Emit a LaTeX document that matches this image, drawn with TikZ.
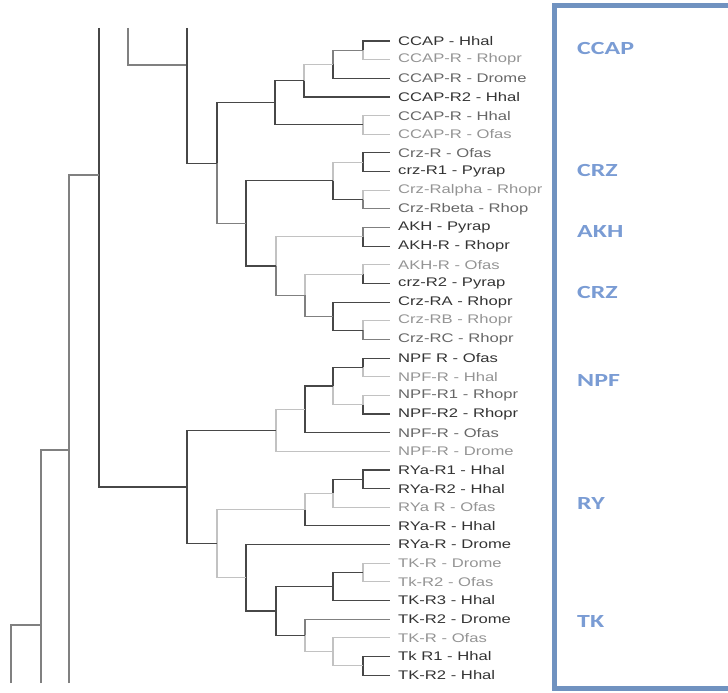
\documentclass[tikz,border=0pt]{standalone}
\usepackage{fontspec}
\usetikzlibrary{calc,positioning}
\newfontfamily\leaffont[FakeStretch=1.33]{Liberation Sans}
\newfontfamily\tagfont[FakeStretch=1.4]{Carlito}
\colorlet{dk}{black!72}
\colorlet{md}{black!50}
\colorlet{lt}{black!24}
\colorlet{lbd}{black!80}
\colorlet{lbm}{black!60}
\colorlet{lbl}{black!42}
\definecolor{boxblue}{RGB}{112,146,192}
\definecolor{tagblue}{RGB}{122,156,212}
\tikzset{%
   br/.style={line width=1.1pt},
   leaf/.style={inner sep=0pt, font=\leaffont\fontsize{12.5}{14}\selectfont},
   tag/.style={anchor=west, inner sep=0pt, text=tagblue, font=\tagfont\bfseries\fontsize{18.5}{20}\selectfont},
   frame/.style={draw=boxblue, line width=5pt},
}
% clade point: name, x, upper child, lower child
\newcommand{\clade}[4]{\path let \p1=($(#3)!.5!(#4)$) in coordinate (#1) at (#2,\y1);}

\begin{document}
\begin{tikzpicture}[x=1pt, y=-1pt]
  \useasboundingbox (0,0) rectangle (728,693);
  % leaves
  \foreach \lab/\c [count=\i] in {CCAP - Hhal/lbd, CCAP-R - Rhopr/lbl, CCAP-R - Drome/lbm,
      CCAP-R2 - Hhal/lbd, CCAP-R - Hhal/lbm, CCAP-R - Ofas/lbl, Crz-R - Ofas/lbm,
      crz-R1 - Pyrap/lbd, Crz-Ralpha - Rhopr/lbl, Crz-Rbeta - Rhop/lbm, AKH - Pyrap/lbd,
      AKH-R - Rhopr/lbd, AKH-R - Ofas/lbl, crz-R2 - Pyrap/lbd, Crz-RA - Rhopr/lbd,
      Crz-RB - Rhopr/lbl, Crz-RC - Rhopr/lbm, NPF R - Ofas/lbd, NPF-R - Hhal/lbl,
      NPF-R1 - Rhopr/lbm, NPF-R2 - Rhopr/lbd, NPF-R - Ofas/lbm, NPF-R - Drome/lbl,
      RYa-R1 - Hhal/lbd, RYa-R2 - Hhal/lbd, RYa R - Ofas/lbl, RYa-R - Hhal/lbd,
      RYa-R - Drome/lbd, TK-R - Drome/lbl, Tk-R2 - Ofas/lbl, TK-R3 - Hhal/lbd,
      TK-R2 - Drome/lbd, TK-R - Ofas/lbl, Tk R1 - Hhal/lbd, TK-R2 - Hhal/lbd}{
    \coordinate (t\i) at (390,{41+18.65*(\i-1)});
    \node[leaf, text=\c, right=8pt of t\i] (n\i) {\lab};
  }
  % clades
  \foreach \cn/\cx/\ca/\cb in {c12/363/t1/t2, c13/333/c12/t3, c14/304/c13/t4, c56/363/t5/t6,
      c16/275/c14/c56, c78/363/t7/t8, c910/363/t9/t10, c710/333/c78/c910,
      c1112/363/t11/t12, c1314/363/t13/t14, c1617/363/t16/t17, c1517/333/t15/c1617,
      c1317/305/c1314/c1517, c1117/276/c1112/c1317, c717/246/c710/c1117, c117/217/c16/c717,
      c1819/363/t18/t19, c2021/363/t20/t21, c1821/333/c1819/c2021, c1822/305/c1821/t22,
      c1823/276/c1822/t23, c2425/363/t24/t25, c2426/333/c2425/t26, c2427/305/c2426/t27,
      c2930/363/t29/t30, c2931/333/c2930/t31, c3435/363/t34/t35, c3335/333/t33/c3435,
      c3235/305/t32/c3335, c2935/276/c2931/c3235, c2835/246/t28/c2935,
      c2435/217/c2427/c2835, c1835/187/c1823/c2435}{\clade{\cn}{\cx}{\ca}{\cb}}
  % branches
  \foreach \ca/\cb/\s in {c12/t1/dk, c12/t2/lt, c13/c12/md, c13/t3/dk, c14/c13/lt, c14/t4/dk,
      c56/t5/lt, c56/t6/lt, c16/c14/dk, c16/c56/dk, c78/t7/dk, c78/t8/dk, c910/t9/lt,
      c910/t10/md, c710/c78/lt, c710/c910/dk, c1112/t11/md, c1112/t12/dk, c1314/t13/lt,
      c1314/t14/dk, c1617/t16/lt, c1617/t17/md, c1517/t15/dk, c1517/c1617/dk,
      c1317/c1314/lt, c1317/c1517/md, c1117/c1112/lt, c1117/c1317/md, c717/c710/dk,
      c717/c1117/dk, c117/c16/dk, c117/c717/md, c1819/t18/dk, c1819/t19/lt, c2021/t20/lt,
      c2021/t21/dk, c1821/c1819/dk, c1821/c2021/lt, c1822/c1821/dk, c1822/t22/dk,
      c1823/c1822/lt, c1823/t23/lt, c2425/t24/dk, c2425/t25/dk, c2426/c2425/dk,
      c2426/t26/lt, c2427/c2426/lt, c2427/t27/dk, c2930/t29/lt, c2930/t30/lt,
      c2931/c2930/dk, c2931/t31/dk, c3435/t34/dk, c3435/t35/dk, c3335/t33/lt,
      c3335/c3435/lt, c3235/t32/md, c3235/c3335/lt, c2935/c2931/dk, c2935/c3235/dk,
      c2835/t28/dk, c2835/c2935/dk, c2435/c2427/lt, c2435/c2835/lt, c1835/c1823/dk,
      c1835/c2435/dk}
    \draw[br, \s] (\ca) |- (\cb);
  % stems cut off at the top and bottom
  \coordinate (e1) at (187,28);
  \coordinate (e2) at (128,28);
  \coordinate (e3) at (99,28);
  \coordinate (e4) at (69,683);
  \coordinate (e5) at (41,683);
  \coordinate (e6) at (11,683);
  \coordinate (u187) at (187,65);
  \coordinate (u99) at (99,175);
  \coordinate (u69) at (69,450);
  \coordinate (u41) at (41,625);
  \draw[br, md] (e2) |- (u187);
  \draw[br, dk] (e1) |- (c117);
  \draw[br, dk] (e3) |- (c1835);
  \draw[br, md] (e4) |- (u99);
  \draw[br, md] (e5) |- (u69);
  \draw[br, md] (e6) |- (u41);
  % groups
  \draw[frame] (554.5,5.5) rectangle (745,688);
  \node[tag] (g1) at (577,48) {CCAP};
  \node[tag] (g2) at (577,170) {CRZ};
  \node[tag] (g3) at (577,231) {AKH};
  \node[tag] (g4) at (577,292) {CRZ};
  \node[tag] (g5) at (577,380) {NPF};
  \node[tag] (g6) at (577,503) {RY};
  \node[tag] (g7) at (577,621) {TK};
\end{tikzpicture}
\end{document}
